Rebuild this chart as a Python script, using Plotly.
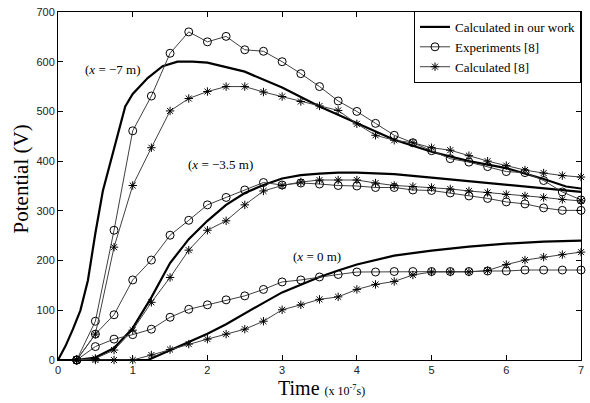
import plotly.graph_objects as go

# ---- data ----
t_exp = [0.25, 0.5, 0.75, 1.0, 1.25, 1.5, 1.75, 2.0, 2.25, 2.5, 2.75, 3.0, 3.25, 3.5,
         3.75, 4.0, 4.25, 4.5, 4.75, 5.0, 5.25, 5.5, 5.75, 6.0, 6.25, 6.5, 6.75, 7.0]

exp_m7 = [0, 78, 261, 461, 531, 617, 660, 640, 651, 624, 621, 600, 576, 550,
          521, 500, 476, 452, 437, 421, 405, 398, 389, 379, 377, 361, 338, 322]
ref_m7 = [0, 52, 227, 351, 427, 501, 526, 540, 550, 550, 539, 530, 520, 511,
          502, 475, 452, 442, 437, 427, 422, 411, 400, 391, 382, 376, 371, 368]

exp_m35 = [0, 52, 91, 161, 201, 251, 281, 312, 327, 342, 357, 352, 356, 354,
           351, 350, 347, 347, 342, 341, 336, 330, 325, 318, 314, 306, 301, 301]
ref_m35 = [0, 3, 20, 60, 116, 166, 221, 261, 280, 312, 340, 351, 358, 362,
           362, 362, 356, 351, 349, 347, 344, 340, 337, 333, 330, 327, 323, 320]

exp_0 = [0, 27, 42, 51, 62, 86, 102, 111, 121, 129, 142, 157, 161, 167,
         172, 177, 177, 178, 178, 178, 178, 178, 179, 179, 181, 181, 181, 181]
ref_0 = [0, 0, 0, 0, 10, 21, 32, 42, 52, 62, 78, 101, 111, 122,
         127, 142, 152, 158, 171, 177, 177, 177, 180, 192, 201, 207, 212, 217]

t_calc_m7 = [0, 0.1, 0.2, 0.3, 0.4, 0.5, 0.6, 0.75, 0.9, 1.0, 1.2, 1.4, 1.6, 1.8, 2.0,
             2.5, 3.0, 3.5, 4.0, 4.5, 5.0, 5.5, 6.0, 6.5, 6.8, 7.0]
calc_m7 = [0, 28, 62, 100, 160, 255, 340, 426, 510, 535, 567, 591, 600, 600, 598,
           580, 548, 510, 476, 443, 419, 400, 386, 364, 349, 345]

t_calc_m35 = [0, 0.25, 0.5, 0.75, 1.0, 1.25, 1.5, 1.75, 2.0, 2.25, 2.5, 2.75, 3.0,
              3.25, 3.5, 3.75, 4.0, 4.5, 5.0, 5.5, 6.0, 6.5, 7.0]
calc_m35 = [0, 0, 5, 24, 64, 126, 195, 243, 280, 312, 336, 352, 365,
            372, 375, 377, 377, 374, 367, 360, 352, 345, 338]

t_calc_0 = [0, 1.2, 1.25, 1.5, 1.75, 2.0, 2.25, 2.5, 2.75, 3.0, 3.25, 3.5, 3.75,
            4.0, 4.5, 5.0, 5.5, 6.0, 6.5, 7.0]
calc_0 = [0, 0, 3, 20, 36, 53, 72, 94, 115, 136, 152, 167, 180,
          192, 210, 220, 228, 234, 238, 240]

x_ticks = [0, 1, 2, 3, 4, 5, 6, 7]
y_ticks = [0, 100, 200, 300, 400, 500, 600, 700]

labels = ["Calculated in our work", "Experiments [8]", "Calculated [8]"]

# ---- figure ----
fig = go.Figure()
thin = "#404040"

def calc_trace(t, y, show):
    return go.Scatter(x=t, y=y, mode="lines", line=dict(color="black", width=2.2),
                      name=labels[0], showlegend=show, legendrank=1, cliponaxis=False)

def exp_trace(t, y, show):
    return go.Scatter(x=t, y=y, mode="lines+markers", line=dict(color=thin, width=1),
                      marker=dict(symbol="circle-open", size=8, color="black",
                                  line=dict(width=1, color="black")),
                      name=labels[1], showlegend=show, legendrank=2, cliponaxis=False)

def ref_trace(t, y, show):
    return go.Scatter(x=t, y=y, mode="lines+markers", line=dict(color=thin, width=1),
                      marker=dict(symbol="asterisk-open", size=7, color="black",
                                  line=dict(width=1, color="black")),
                      name=labels[2], showlegend=show, legendrank=3, cliponaxis=False)

fig.add_trace(calc_trace(t_calc_m7, calc_m7, True))
fig.add_trace(calc_trace(t_calc_m35, calc_m35, False))
fig.add_trace(calc_trace(t_calc_0, calc_0, False))
fig.add_trace(exp_trace(t_exp, exp_m7, True))
fig.add_trace(exp_trace(t_exp, exp_m35, False))
fig.add_trace(exp_trace(t_exp, exp_0, False))
fig.add_trace(ref_trace(t_exp, ref_m7, True))
fig.add_trace(ref_trace(t_exp, ref_m35, False))
fig.add_trace(ref_trace(t_exp, ref_0, False))

axis_common = dict(showline=True, linecolor="black", linewidth=1, mirror="ticks",
                   ticks="inside", ticklen=5, tickcolor="black", showgrid=False,
                   zeroline=False, tickfont=dict(family="Liberation Sans", size=11, color="#222"))

fig.update_xaxes(range=[0, 7], tickvals=x_ticks, ticktext=[str(v) for v in x_ticks], **axis_common)
fig.update_yaxes(range=[0, 700], tickvals=y_ticks, ticktext=[str(v) for v in y_ticks], **axis_common)

serif = "Liberation Serif"
fig.update_layout(
    width=590, height=403,
    margin=dict(l=58, r=6, t=10, b=43),
    paper_bgcolor="white", plot_bgcolor="white",
    font=dict(family=serif, color="black"),
    showlegend=True,
    legend=dict(x=1, y=1.003, xanchor="right", yanchor="top",
                bordercolor="black", borderwidth=1, bgcolor="white",
                font=dict(family=serif, size=13, color="black"),
                tracegroupgap=0, itemwidth=30),
    annotations=[
        dict(x=0.73, y=585, xref="x", yref="y", text="(<i>x</i> = \u22127 m)", showarrow=False,
             font=dict(family=serif, size=13, color="black")),
        dict(x=2.18, y=393, xref="x", yref="y", text="(<i>x</i> = \u22123.5 m)", showarrow=False,
             font=dict(family=serif, size=13, color="black")),
        dict(x=3.47, y=209, xref="x", yref="y", text="(<i>x</i> = 0 m)", showarrow=False,
             font=dict(family=serif, size=13, color="black")),
        dict(x=0.503, y=-0.081, xref="paper", yref="paper", xanchor="center", yanchor="middle",
             text="Time <span style='font-size:12px'>(x 10<sup>-7</sup>s)</span>",
             showarrow=False, font=dict(family=serif, size=20, color="black")),
        dict(x=-0.07, y=0.52, xref="paper", yref="paper", xanchor="center", yanchor="middle",
             textangle=-90, text="Potential (V)", showarrow=False,
             font=dict(family=serif, size=21, color="black")),
    ],
)

fig.write_html("out.html", config={"displayModeBar": False},
               post_script="document.body.style.margin='0';document.body.style.overflow='hidden';")
